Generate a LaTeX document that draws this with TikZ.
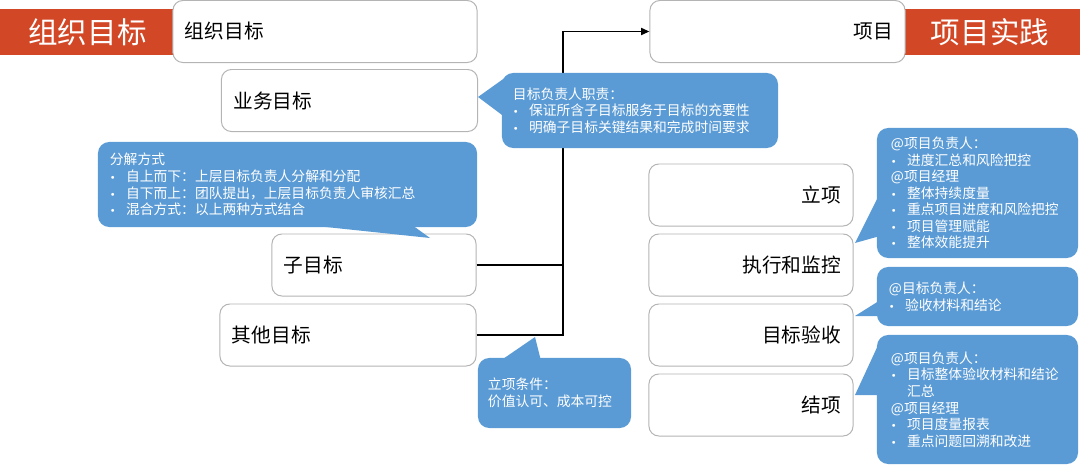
\documentclass[tikz,border=0pt]{standalone}
\usepackage{fontspec}
\setmainfont{Noto Sans CJK SC}
\newfontfamily\bulfont{DejaVu Sans}
\usetikzlibrary{arrows.meta,positioning}
\definecolor{tipblue}{RGB}{91,155,213}
\definecolor{bandred}{RGB}{210,71,38}
\definecolor{boxgray}{RGB}{180,180,180}
\tikzset{box/.style={draw=boxgray,line width=0.7pt,fill=white,rounded corners=7pt,
inner xsep=0.3cm,minimum height=1.55cm,font=\fontsize{14pt}{16pt}\selectfont,text=black},
tip/.style={fill=tipblue,rounded corners=8pt,text=white,inner xsep=0.3cm,align=left,
font=\fontsize{9.8pt}{11.8pt}\selectfont},
band/.style={fill=bandred,text=white,minimum height=1.15cm,inner sep=0pt,
font=\fontsize{21pt}{24pt}\selectfont}}
\tikzstyle{conn} = [line width=1.3pt]
\newcommand{\bul}{\makebox[11.5pt][l]{\bulfont\fontsize{7pt}{8pt}\selectfont •}}

\begin{document}
\begin{tikzpicture}[x=0.025cm,y=-0.025cm]
		\useasboundingbox (0,0) rectangle (1080,467);

		% title bands
		\node[band,minimum width=4.375cm] (orgband) at (87.5,32) {组织目标};
		\node[band,minimum width=4.5cm] (projband) at (990,32) {项目实践};

		% goal side
		\node[box,text width=7cm,align=left] (org) at (325,31.5) {组织目标};
		\node[box,text width=5.8cm,align=left] (biz) at (349.5,100.5) {业务目标};
		\node[box,text width=4.5cm,align=left] (sub) at (374,265) {子目标};
		\node[box,text width=5.8cm,align=left] (other) at (348,335) {其他目标};

		% project side
		\node[box,text width=5.775cm,align=right] (proj) at (777.5,31.5) {项目};
		\foreach \t[count=\i] in {立项,执行和监控,目标验收,结项}
		\node[box,text width=4.5cm,align=right] (s\i) at (751,{195+70*(\i-1)}) {\t};

		\coordinate (join) at (563,335);
		\draw[conn] (sub.east) -| (join);
		\draw[conn,-{Triangle[length=6pt,width=5pt]}] (other.east) -- (join) |- (proj.west);

		% callouts
		\node[tip,text width=6.35cm,minimum height=1.875cm,inner xsep=0.275cm] (duty) at (640,110.5)
		{目标负责人职责：\\\bul 保证所含子目标服务于目标的充要性\\\bul 明确子目标关键结果和完成时间要求};
		\fill[tipblue] (506,77) -- (478,97) -- (506,118) -- cycle;

		\node[tip,text width=8.875cm,minimum height=2.125cm] (split) at (287.5,184.5)
		{分解方式\\\bul 自上而下：上层目标负责人分解和分配\\\bul 自下而上：团队提出，上层目标负责人审核汇总\\\bul 混合方式：以上两种方式结合};
		\fill[tipblue] (307,225) -- (412,225) -- (430,238) -- cycle;

		\node[tip,text width=3.325cm,minimum height=1.75cm,inner xsep=0.25cm] (cond) at (554.5,393)
		{立项条件：\\价值认可、成本可控};
		\fill[tipblue] (500,361) -- (535,337) -- (541,361) -- cycle;

		\node[tip,text width=4.325cm,minimum height=3.25cm,inner xsep=0.35cm] (run) at (977.5,193)
		{@项目负责人：\\\bul 进度汇总和风险把控\\@项目经理\\\bul 整体持续度量\\\bul 重点项目进度和风险把控\\\bul 项目管理赋能\\\bul 整体效能提升};
		\fill[tipblue] (880,193) -- (855,243) -- (880,236) -- cycle;

		\node[tip,text width=4.425cm,minimum height=1.475cm] (accept) at (977.5,296.5)
		{@目标负责人：\\\bul 验收材料和结论};
		\fill[tipblue] (882,299) -- (855,316) -- (882,316) -- cycle;

		\node[tip,text width=4.325cm,minimum height=3.225cm,inner xsep=0.35cm] (close) at (977.5,399.5)
		{@项目负责人：\\\bul 目标整体验收材料和结论\\\hspace*{11.5pt}汇总\\@项目经理\\\bul 项目度量报表\\\bul 重点问题回溯和改进};
		\fill[tipblue] (880,341) -- (855,395) -- (880,395) -- cycle;
	\end{tikzpicture}
\end{document}
